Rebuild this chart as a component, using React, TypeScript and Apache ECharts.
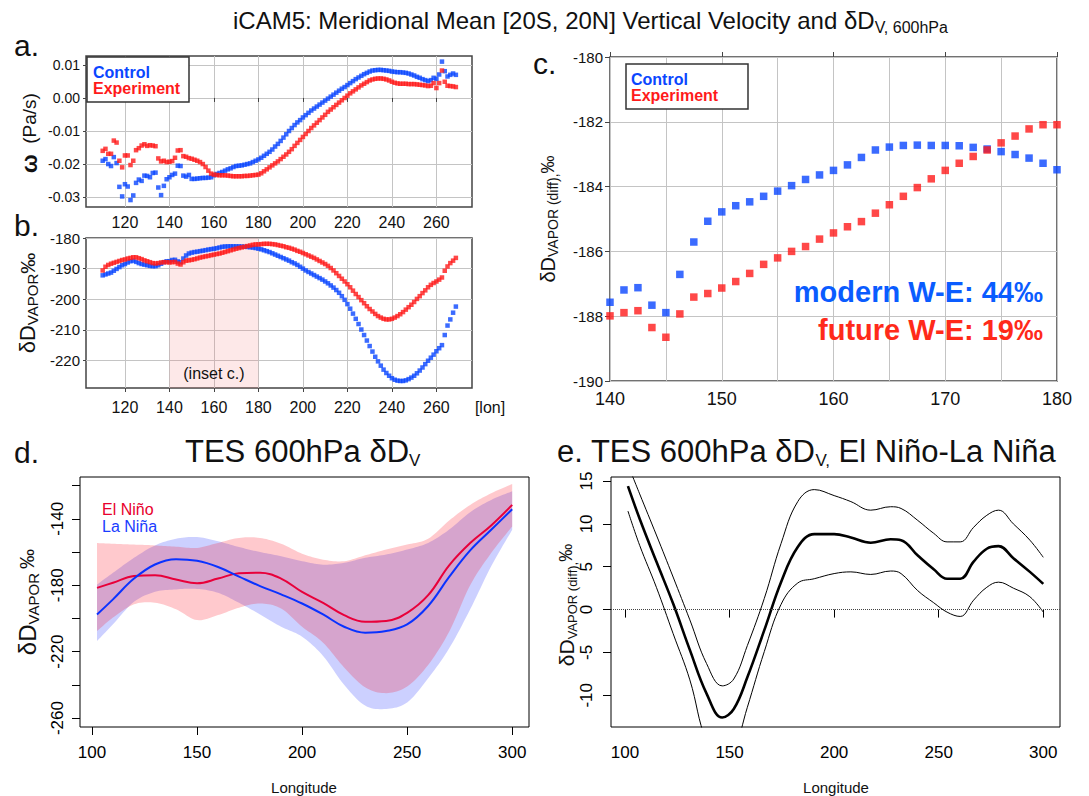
import React, { useEffect, useRef } from "react";
import * as echarts from "echarts";

// ---------- Panel a / b : iCAM5 model grid longitudes ----------
const LON = [
  110, 111.25, 112.5, 113.75, 115, 116.25, 117.5, 118.75,
  120, 121.25, 122.5, 123.75, 125, 126.25, 127.5, 128.75,
  130, 131.25, 132.5, 133.75, 135, 136.25, 137.5, 138.75,
  140, 141.25, 142.5, 143.75, 145, 146.25, 147.5, 148.75,
  150, 151.25, 152.5, 153.75, 155, 156.25, 157.5, 158.75,
  160, 161.25, 162.5, 163.75, 165, 166.25, 167.5, 168.75,
  170, 171.25, 172.5, 173.75, 175, 176.25, 177.5, 178.75,
  180, 181.25, 182.5, 183.75, 185, 186.25, 187.5, 188.75,
  190, 191.25, 192.5, 193.75, 195, 196.25, 197.5, 198.75,
  200, 201.25, 202.5, 203.75, 205, 206.25, 207.5, 208.75,
  210, 211.25, 212.5, 213.75, 215, 216.25, 217.5, 218.75,
  220, 221.25, 222.5, 223.75, 225, 226.25, 227.5, 228.75,
  230, 231.25, 232.5, 233.75, 235, 236.25, 237.5, 238.75,
  240, 241.25, 242.5, 243.75, 245, 246.25, 247.5, 248.75,
  250, 251.25, 252.5, 253.75, 255, 256.25, 257.5, 258.75,
  260, 261.25, 262.5, 263.75, 265, 266.25, 267.5, 268.75,
];

// a. omega (Pa/s)
const A_CTRL = [
  -0.019, -0.0185, -0.02, -0.0206, -0.0179, -0.0197, -0.0269, -0.0298,
  -0.0261, -0.0268, -0.0309, -0.0295, -0.0257, -0.0247, -0.0251, -0.0235,
  -0.0236, -0.024, -0.0227, -0.0226, -0.0271, -0.0294, -0.0266, -0.0246,
  -0.024, -0.0233, -0.0229, -0.0205, -0.0206, -0.0235, -0.0238, -0.0233,
  -0.0245, -0.0245, -0.0244, -0.0243, -0.0242, -0.0242, -0.0241, -0.024,
  -0.0234, -0.023, -0.0227, -0.0224, -0.022, -0.0216, -0.0213, -0.0209,
  -0.0206, -0.0205, -0.0204, -0.0202, -0.02, -0.0198, -0.0194, -0.019,
  -0.0186, -0.0181, -0.0175, -0.0169, -0.0163, -0.0156, -0.0147, -0.0139,
  -0.013, -0.012, -0.011, -0.01, -0.0091, -0.0082, -0.0074, -0.0067,
  -0.0059, -0.0052, -0.0045, -0.0038, -0.0032, -0.0026, -0.002, -0.0014,
  -0.0008, -0.0002, 0.0004, 0.001, 0.0016, 0.0022, 0.0028, 0.0033,
  0.0039, 0.0045, 0.0051, 0.0057, 0.0062, 0.0067, 0.0072, 0.0076,
  0.008, 0.0083, 0.0084, 0.0085, 0.0085, 0.0084, 0.0083, 0.0082,
  0.008, 0.0079, 0.0078, 0.0078, 0.0077, 0.0076, 0.0074, 0.0071,
  0.0068, 0.0064, 0.0061, 0.0057, 0.0054, 0.0051, 0.0054, 0.0061,
  0.0058, 0.0071, 0.011, 0.0081, 0.0065, 0.007, 0.0074, 0.007,
];
const A_EXP = [
  -0.016, -0.0154, -0.0169, -0.0169, -0.0129, -0.0135, -0.019, -0.021,
  -0.0174, -0.0174, -0.0203, -0.019, -0.0158, -0.0152, -0.0144, -0.014,
  -0.0145, -0.0143, -0.0144, -0.0146, -0.0183, -0.0192, -0.019, -0.0194,
  -0.0193, -0.0191, -0.0181, -0.0159, -0.0158, -0.0176, -0.0178, -0.0182,
  -0.0184, -0.0187, -0.019, -0.0194, -0.02, -0.0209, -0.022, -0.0229,
  -0.0232, -0.0233, -0.0234, -0.0234, -0.0234, -0.0235, -0.0236, -0.0237,
  -0.0237, -0.0237, -0.0237, -0.0236, -0.0236, -0.0235, -0.0234, -0.0233,
  -0.0232, -0.0228, -0.0222, -0.0216, -0.021, -0.0204, -0.0198, -0.0192,
  -0.0185, -0.0178, -0.0171, -0.0163, -0.0155, -0.0145, -0.0136, -0.0127,
  -0.0118, -0.0109, -0.01, -0.0091, -0.0083, -0.0075, -0.0067, -0.0059,
  -0.0051, -0.0042, -0.0035, -0.0028, -0.0021, -0.0014, -0.0007, 0.0,
  0.0007, 0.0014, 0.002, 0.0026, 0.0032, 0.0038, 0.0043, 0.0048,
  0.0053, 0.0056, 0.0058, 0.0059, 0.0059, 0.0058, 0.0056, 0.0053,
  0.0049, 0.0046, 0.0044, 0.0043, 0.0043, 0.0043, 0.0042, 0.0042,
  0.0042, 0.0041, 0.004, 0.0039, 0.0038, 0.0036, 0.0037, 0.0045,
  0.003, 0.0045, 0.0083, 0.0049, 0.0037, 0.0036, 0.0035, 0.0033,
];

// b. dD vapor (permil)
const B_CTRL = [
  -192.2, -191.9, -191.6, -191.3, -190.7, -190.1, -189.5, -188.9,
  -188.5, -188.0, -187.6, -187.4, -187.8, -188.2, -188.5, -188.7,
  -188.9, -189.1, -189.2, -189.2, -188.9, -188.4, -187.9, -187.6,
  -187.57, -187.19, -187.12, -187.66, -187.89, -186.71, -185.71, -185.07,
  -184.78, -184.59, -184.47, -184.3, -184.14, -183.97, -183.78, -183.64,
  -183.5, -183.33, -183.1, -182.87, -182.78, -182.73, -182.72, -182.73,
  -182.73, -182.74, -182.79, -182.84, -182.92, -183.01, -183.12, -183.28,
  -183.48, -183.7, -184.0, -184.3, -184.6, -185.0, -185.4, -185.8,
  -186.2, -186.6, -187.0, -187.4, -187.9, -188.3, -188.8, -189.4,
  -190.0, -190.6, -191.1, -191.6, -192.1, -192.6, -193.1, -193.6,
  -194.2, -194.8, -195.5, -196.2, -197.0, -197.9, -199.0, -200.2,
  -201.6, -203.1, -204.7, -206.4, -208.1, -209.9, -211.7, -213.5,
  -215.3, -217.1, -218.8, -220.3, -221.7, -223.0, -224.1, -225.0,
  -225.8, -226.3, -226.6, -226.7, -226.7, -226.5, -226.1, -225.6,
  -225.0, -224.2, -223.3, -222.3, -221.2, -220.1, -219.1, -218.1,
  -217.0, -216.0, -215.0, -211.7, -208.6, -206.6, -204.4, -202.4,
];
const B_EXP = [
  -190.6, -189.4, -188.8, -188.4, -188.1, -187.8, -187.5, -187.2,
  -187.0, -186.7, -186.5, -186.3, -186.3, -186.6, -186.9, -187.3,
  -187.6, -187.9, -188.2, -188.3, -188.2, -188.0, -187.9, -187.9,
  -187.99, -187.89, -187.83, -188.35, -188.65, -187.93, -187.41, -187.3,
  -187.13, -186.93, -186.68, -186.4, -186.2, -186.0, -185.85, -185.62,
  -185.43, -185.24, -185.08, -184.82, -184.56, -184.3, -184.03, -183.76,
  -183.5, -183.28, -183.07, -182.87, -182.65, -182.44, -182.22, -182.09,
  -182.09, -182.0, -181.9, -181.9, -181.9, -182.0, -182.1, -182.3,
  -182.5, -182.7, -183.0, -183.2, -183.5, -183.8, -184.2, -184.5,
  -184.9, -185.3, -185.7, -186.1, -186.5, -187.0, -187.5, -188.0,
  -188.5, -189.1, -189.8, -190.6, -191.5, -192.4, -193.3, -194.2,
  -195.1, -196.1, -197.2, -198.3, -199.3, -200.3, -201.3, -202.3,
  -203.2, -204.0, -204.8, -205.5, -206.0, -206.4, -206.6, -206.6,
  -206.4, -206.0, -205.5, -204.9, -204.2, -203.4, -202.6, -201.8,
  -200.9, -199.9, -199.0, -198.0, -197.1, -196.1, -195.3, -194.7,
  -194.2, -193.6, -192.9, -190.7, -189.3, -188.2, -187.4, -186.5,
];

// c. inset 140-180
const LON_C = [
  140, 141.25, 142.5, 143.75, 145, 146.25, 147.5, 148.75,
  150, 151.25, 152.5, 153.75, 155, 156.25, 157.5, 158.75,
  160, 161.25, 162.5, 163.75, 165, 166.25, 167.5, 168.75,
  170, 171.25, 172.5, 173.75, 175, 176.25, 177.5, 178.75, 180,
];
const C_CTRL = [
  -187.57, -187.19, -187.12, -187.66, -187.89, -186.71, -185.71, -185.07,
  -184.78, -184.59, -184.47, -184.3, -184.14, -183.97, -183.78, -183.64,
  -183.5, -183.33, -183.1, -182.87, -182.78, -182.73, -182.72, -182.73,
  -182.73, -182.74, -182.79, -182.84, -182.92, -183.01, -183.12, -183.28, -183.48,
];
const C_EXP = [
  -187.99, -187.89, -187.83, -188.35, -188.65, -187.93, -187.41, -187.3,
  -187.13, -186.93, -186.68, -186.4, -186.2, -186.0, -185.85, -185.62,
  -185.43, -185.24, -185.08, -184.82, -184.56, -184.3, -184.03, -183.76,
  -183.5, -183.28, -183.07, -182.87, -182.65, -182.44, -182.22, -182.09, -182.09,
];

// d. TES 600hPa dD composites
const D_LON = [102.4, 110, 120, 130, 140, 150, 160, 170, 180, 190, 200, 210, 220, 230, 240, 250, 260, 270, 280, 290, 300];
const EN_HI = [-154.6, -155, -155.5, -156, -156.8, -157.5, -154.5, -151.5, -151.5, -155, -161, -164.6, -165.5, -162, -158.5, -155.5, -152, -141, -131.6, -124.6, -119];
const EN_LO = [-207.6, -199.5, -191.5, -190.5, -194.5, -201, -198, -193.5, -191, -194, -205, -214.6, -229.5, -241.5, -245, -241, -228, -208, -180, -160.6, -144.6];
const LN_HI = [-179.6, -172.5, -163.5, -156, -152, -151, -153.5, -157, -160, -162.5, -165.5, -167.6, -166.5, -163.5, -161.5, -158.5, -154.5, -146.5, -136, -128.6, -123.4];
const LN_LO = [-213.6, -203.5, -190, -184, -182.5, -182.2, -184.6, -190.6, -197.6, -205, -211, -222.6, -240, -252.5, -254.5, -250.6, -236, -218, -194.5, -168.6, -146.6];
const EN_MID = [-181.6, -178.5, -174.5, -174, -176.5, -178.8, -176, -172.8, -172.5, -176, -184, -190.6, -198, -202, -201.5, -196.6, -186, -168, -154.6, -144, -131.6];
const LN_MID = [-197.6, -188.5, -176, -167.5, -164.3, -165.3, -169, -174.8, -180.5, -185.5, -191, -197.6, -205, -208.6, -207.6, -203.6, -192.5, -175, -159, -146.6, -134.2];

// e. El Nino - La Nina difference with bounds
const E_LON = [101.4, 107, 115, 123, 131, 139, 146.5, 152, 158.5, 166.6, 174.6, 182.6, 190.5, 200, 208, 217.5, 227, 232, 240, 247.6, 254, 260.3, 266.7, 273, 278.6, 285.7, 293.6, 300];
const E_MID = [14.4, 10.6, 5.6, 0.7, -4.7, -9.8, -12.6, -11.6, -7.9, -2.4, 3.2, 7.3, 8.8, 8.8, 8.4, 7.8, 8.2, 8.1, 6.3, 4.7, 3.6, 3.6, 5.6, 7.1, 7.4, 6.0, 4.4, 3.0];
const E_HI = [16.9, 13.5, 8.7, 3.8, -1.2, -6.3, -8.9, -8.1, -4.2, 1.3, 7.7, 12.6, 14.0, 13.3, 12.6, 11.6, 12.0, 11.8, 10.4, 8.9, 7.9, 7.9, 9.6, 11.0, 11.6, 10.0, 8.1, 6.1];
const E_LO = [11.5, 7.5, 2.6, -2.8, -8.2, -15.4, -17.6, -16.4, -11.4, -4.9, 0.6, 3.1, 3.6, 4.2, 4.4, 4.1, 4.5, 4.2, 2.2, 0.8, -0.3, -0.8, 1.1, 2.6, 3.2, 2.5, 1.5, -0.3];

// tick values
const AB_XTICKS = [120, 140, 160, 180, 200, 220, 240, 260];
const A_YTICKS = [-0.03, -0.02, -0.01, 0, 0.01];
const B_YTICKS = [-220, -210, -200, -190, -180];
const DE_XTICKS = [100, 150, 200, 250, 300];
const D_YTICKS = [-260, -240, -220, -200, -180, -160, -140, -120];
const D_YLABELS = [-260, -220, -180, -140];
const E_YTICKS = [-10, -5, 0, 5, 10, 15];

const F = "'Liberation Sans', Arial, Helvetica, sans-serif";
const BLUE = "#0a46ff";
const RED = "#ff1a1a";

const mk = (xs: number[], ys: number[]) => xs.map((x, i) => [x, ys[i]]);

function catmull(pts: number[][], steps = 10) {
  const out: number[][] = [];
  for (let i = 0; i < pts.length - 1; i++) {
    const p0 = pts[Math.max(0, i - 1)], p1 = pts[i], p2 = pts[i + 1], p3 = pts[Math.min(pts.length - 1, i + 2)];
    for (let s = 0; s < steps; s++) {
      const t = s / steps, t2 = t * t, t3 = t2 * t;
      const f = (k: number) =>
        0.5 * (2 * p1[k] + (-p0[k] + p2[k]) * t + (2 * p0[k] - 5 * p1[k] + 4 * p2[k] - p3[k]) * t2 + (-p0[k] + 3 * p1[k] - 3 * p2[k] + p3[k]) * t3);
      out.push([f(0), f(1)]);
    }
  }
  out.push(pts[pts.length - 1]);
  return out;
}

function band(hi: number[], lo: number[], color: string) {
  return {
    type: "custom",
    coordinateSystem: "cartesian2d",
    xAxisIndex: 4,
    yAxisIndex: 3,
    silent: true,
    z: 1,
    data: [[200, -190]],
    renderItem: (_p: any, api: any) => {
      const up = D_LON.map((x, i) => api.coord([x, hi[i]]));
      const dn = D_LON.map((x, i) => api.coord([x, lo[i]]));
      const pts = catmull(up).concat(catmull(dn).reverse());
      return { type: "polygon", shape: { points: pts }, style: { fill: color } };
    },
  };
}

const gridStyle = (left: number, top: number, width: number, height: number, color = "#444", bw = 1.5) => ({
  left, top, width, height, show: true, borderColor: color, borderWidth: bw,
  backgroundColor: "transparent", containLabel: false, outerBoundsMode: "none",
});

const splitGray = { show: true, lineStyle: { color: "#c4c4c4", width: 1 } };

function txt(x: number, y: number, text: string, fontSize: number, extra: any = {}) {
  return {
    type: "text", x, y, z: 100, silent: true,
    style: { text, fontSize, fontFamily: F, fill: "#111", align: "left", verticalAlign: "middle", ...extra },
  };
}

function rotLabel(x: number, y: number, text: string, rich: any) {
  return {
    type: "text", x, y, z: 100, rotation: Math.PI / 2, silent: true,
    style: { text, rich, fontFamily: F, fill: "#111", align: "center", verticalAlign: "middle" },
  };
}

function buildOption(): any {
  const dRich = (big: number, small: number, pm: number) => ({
    d: { fontSize: big, fontFamily: F, fill: "#111", lineHeight: big + 4 },
    v: { fontSize: small, fontFamily: F, fill: "#111", lineHeight: big - 2, verticalAlign: "bottom" },
    p: { fontSize: pm, fontFamily: F, fill: "#111", lineHeight: big + 4 },
  });

  return {
    animation: false,
    backgroundColor: "#fff",
    textStyle: { fontFamily: F },
    grid: [
      gridStyle(86, 56, 386, 151),
      gridStyle(86, 238, 386, 150),
      gridStyle(610, 57, 447, 324),
      gridStyle(80, 477, 449, 250, "#000", 1),
      gridStyle(611, 477, 449, 250, "#000", 1),
    ],
    xAxis: [
      {
        gridIndex: 0, type: "value", min: 102.5, max: 276,
        axisLine: { show: false },
        axisTick: { show: true, length: 4, customValues: AB_XTICKS, lineStyle: { color: "#444" } },
        axisLabel: { customValues: AB_XTICKS, fontSize: 16, color: "#111", margin: 7, fontFamily: F },
        splitLine: splitGray,
      },
      {
        gridIndex: 1, type: "value", min: 102.5, max: 276,
        axisLine: { show: false },
        axisTick: { show: true, length: 4, customValues: AB_XTICKS, lineStyle: { color: "#444" } },
        axisLabel: { customValues: AB_XTICKS, fontSize: 16, color: "#111", margin: 11, fontFamily: F },
        splitLine: splitGray,
      },
      {
        gridIndex: 2, type: "value", min: 140, max: 180, interval: 5,
        axisLine: { show: false },
        axisTick: { show: false },
        axisLabel: { fontSize: 18, color: "#111", margin: 9, fontFamily: F, formatter: (v: number) => (v % 10 === 0 ? String(v) : "") },
        splitLine: splitGray,
      },
      {
        gridIndex: 2, type: "value", min: 140, max: 180, interval: 10,
        axisLine: { show: false },
        axisTick: { show: true, length: 5, lineStyle: { color: "#444" } },
        axisLabel: { show: false },
        splitLine: { show: false },
      },
      {
        gridIndex: 3, type: "value", min: 94.3, max: 308,
        axisLine: { show: false },
        axisTick: { show: true, length: 8, customValues: DE_XTICKS, lineStyle: { color: "#000" } },
        axisLabel: { customValues: DE_XTICKS, fontSize: 17, color: "#000", margin: 17, fontFamily: F },
        splitLine: { show: false },
      },
      {
        gridIndex: 4, type: "value", min: 93.3, max: 308,
        axisLine: { show: false },
        axisTick: { show: true, length: 8, customValues: DE_XTICKS, lineStyle: { color: "#000" } },
        axisLabel: { customValues: DE_XTICKS, fontSize: 17, color: "#000", margin: 17, fontFamily: F },
        splitLine: { show: false },
      },
    ],
    yAxis: [
      {
        gridIndex: 0, type: "value", min: -0.033, max: 0.0127,
        axisLine: { show: false },
        axisTick: { show: true, length: 3, customValues: A_YTICKS, lineStyle: { color: "#444" } },
        axisLabel: { customValues: A_YTICKS, fontSize: 14, color: "#111", margin: 6, fontFamily: F, formatter: (v: number) => v.toFixed(2) },
        splitLine: splitGray,
      },
      {
        gridIndex: 1, type: "value", min: -229, max: -180,
        axisLine: { show: false },
        axisTick: { show: true, length: 3, customValues: B_YTICKS, lineStyle: { color: "#444" } },
        axisLabel: { customValues: B_YTICKS, fontSize: 15, color: "#111", margin: 6, fontFamily: F },
        splitLine: splitGray,
      },
      {
        gridIndex: 2, type: "value", min: -190, max: -180, interval: 2,
        axisLine: { show: false },
        axisTick: { show: true, length: 5, lineStyle: { color: "#444" } },
        axisLabel: { fontSize: 15, color: "#111", margin: 7, fontFamily: F },
        splitLine: splitGray,
      },
      {
        gridIndex: 3, type: "value", min: -265.4, max: -114.8,
        axisLine: { show: false },
        axisTick: { show: true, length: 8, customValues: D_YTICKS, lineStyle: { color: "#000" } },
        axisLabel: { customValues: D_YLABELS, rotate: 90, fontSize: 17, color: "#000", margin: 14, fontFamily: F },
        splitLine: { show: false },
      },
      {
        gridIndex: 4, type: "value", min: -13.7, max: 15.47,
        axisLine: { show: false },
        axisTick: { show: true, length: 8, customValues: E_YTICKS, lineStyle: { color: "#000" } },
        axisLabel: { customValues: E_YTICKS, rotate: 90, fontSize: 17, color: "#000", margin: 16, fontFamily: F },
        splitLine: { show: false },
      },
    ],
    series: [
      // a
      { type: "scatter", xAxisIndex: 0, yAxisIndex: 0, data: mk(LON, A_CTRL), symbol: "rect", symbolSize: 4.5, itemStyle: { color: BLUE }, silent: true },
      { type: "scatter", xAxisIndex: 0, yAxisIndex: 0, data: mk(LON, A_EXP), symbol: "rect", symbolSize: 4.5, itemStyle: { color: RED }, silent: true },
      // b
      {
        type: "scatter", xAxisIndex: 1, yAxisIndex: 1, data: mk(LON, B_CTRL), symbol: "rect", symbolSize: 4.5, itemStyle: { color: BLUE }, silent: true,
        markArea: {
          silent: true,
          itemStyle: { color: "rgba(245,120,120,0.17)" },
          label: { show: true, position: "insideBottom", distance: 7, formatter: "(inset c.)", fontSize: 16, color: "#111", fontFamily: F },
          data: [[{ xAxis: 140 }, { xAxis: 180 }]],
        },
      },
      { type: "scatter", xAxisIndex: 1, yAxisIndex: 1, data: mk(LON, B_EXP), symbol: "rect", symbolSize: 4.5, itemStyle: { color: RED }, silent: true },
      // c
      { type: "scatter", xAxisIndex: 2, yAxisIndex: 2, data: mk(LON_C, C_CTRL), symbol: "rect", symbolSize: 7.5, itemStyle: { color: BLUE }, silent: true },
      { type: "scatter", xAxisIndex: 2, yAxisIndex: 2, data: mk(LON_C, C_EXP), symbol: "rect", symbolSize: 7.5, itemStyle: { color: RED }, silent: true },
      // d
      band(LN_HI, LN_LO, "rgba(0,20,255,0.2)"),
      band(EN_HI, EN_LO, "rgba(255,0,20,0.21)"),
      { type: "line", xAxisIndex: 4, yAxisIndex: 3, data: mk(D_LON, EN_MID), smooth: 0.4, symbol: "none", lineStyle: { color: "#e8003a", width: 2 }, z: 3, silent: true },
      { type: "line", xAxisIndex: 4, yAxisIndex: 3, data: mk(D_LON, LN_MID), smooth: 0.4, symbol: "none", lineStyle: { color: "#0a32ff", width: 2 }, z: 3, silent: true },
      // e
      { type: "line", xAxisIndex: 5, yAxisIndex: 4, data: mk(E_LON, E_HI), smooth: 0.4, symbol: "none", lineStyle: { color: "#000", width: 1 }, silent: true },
      { type: "line", xAxisIndex: 5, yAxisIndex: 4, data: mk(E_LON, E_LO), smooth: 0.4, symbol: "none", lineStyle: { color: "#000", width: 1 }, silent: true },
      {
        type: "line", xAxisIndex: 5, yAxisIndex: 4, data: mk(E_LON, E_MID), smooth: 0.4, symbol: "none", lineStyle: { color: "#000", width: 2.6 }, silent: true,
        markLine: { silent: true, symbol: "none", label: { show: false }, lineStyle: { type: "dotted", color: "#444", width: 1 }, data: [{ yAxis: 0 }] },
      },
    ],
    graphic: [
      // main title
      {
        type: "text", x: 233, y: 20, z: 100, silent: true,
        style: {
          text: "{m|iCAM5: Meridional Mean [20S, 20N] Vertical Velocity and δD}{s|V, 600hPa}",
          align: "left", verticalAlign: "middle",
          rich: {
            m: { fontSize: 24, fontFamily: F, fill: "#111", lineHeight: 30 },
            s: { fontSize: 16, fontFamily: F, fill: "#111", lineHeight: 14, verticalAlign: "bottom" },
          },
        },
      },
      // panel letters
      txt(14, 45, "a.", 30),
      txt(14, 225, "b.", 30),
      txt(533, 63, "c.", 30),
      txt(14, 452, "d.", 30),
      // panel a legend
      { type: "rect", z: 99, silent: true, shape: { x: 87, y: 57, width: 102, height: 45 }, style: { fill: "#fff", stroke: "#333", lineWidth: 1.5 } },
      txt(93, 72, "Control", 16, { fill: BLUE, fontWeight: "bold" }),
      txt(93, 88, "Experiment", 16, { fill: RED, fontWeight: "bold" }),
      // panel c legend
      { type: "rect", z: 99, silent: true, shape: { x: 626, y: 64, width: 122, height: 45 }, style: { fill: "#fff", stroke: "#333", lineWidth: 1.5 } },
      txt(631, 79, "Control", 16, { fill: BLUE, fontWeight: "bold" }),
      txt(631, 95, "Experiment", 16, { fill: RED, fontWeight: "bold" }),
      // panel c annotations
      txt(1043, 292, "modern W-E: 44‰", 29, { fill: "#0a5cff", fontWeight: "bold", align: "right" }),
      txt(1043, 330, "future W-E: 19‰", 29, { fill: "#ff2a1a", fontWeight: "bold", align: "right" }),
      // [lon]
      txt(490, 407, "[lon]", 16, { align: "center" }),
      // y-axis names
      rotLabel(29, 133, "{w|ω}{p|  (Pa/s)}", {
        w: { fontSize: 22, fontWeight: "bold", fontFamily: F, fill: "#111" },
        p: { fontSize: 19, fontFamily: F, fill: "#111" },
      }),
      rotLabel(27, 303, "{d|δD}{v|VAPOR}{p|‰}", dRich(22, 15, 21)),
      rotLabel(548, 219, "{d|δD}{v|VAPOR (diff),}{p|‰}", dRich(20, 14, 18)),
      rotLabel(27, 602, "{d|δD}{v|VAPOR }{p|‰}", dRich(24, 15, 20)),
      rotLabel(566, 605, "{d|δD}{v|VAPOR (diff),}{p|‰}", dRich(21, 13, 18)),
      // d title and legend
      {
        type: "text", x: 185, y: 451, z: 100, silent: true,
        style: {
          text: "{m|TES 600hPa δD}{s|V}",
          align: "left", verticalAlign: "middle",
          rich: {
            m: { fontSize: 31, fontFamily: F, fill: "#111", lineHeight: 36 },
            s: { fontSize: 17, fontFamily: F, fill: "#111", lineHeight: 20, verticalAlign: "bottom" },
          },
        },
      },
      txt(102, 509, "El Niño", 16, { fill: "#e8002d" }),
      txt(102, 526, "La Niña", 16, { fill: "#1a3cff" }),
      // e title
      {
        type: "text", x: 557, y: 451, z: 100, silent: true,
        style: {
          text: "{m|e. TES 600hPa δD}{s|V,}{m| El Niño-La Niña}",
          align: "left", verticalAlign: "middle",
          rich: {
            m: { fontSize: 31, fontFamily: F, fill: "#111", lineHeight: 36 },
            s: { fontSize: 17, fontFamily: F, fill: "#111", lineHeight: 20, verticalAlign: "bottom" },
          },
        },
      },
      txt(304, 787, "Longitude", 15, { align: "center" }),
      txt(836, 787, "Longitude", 15, { align: "center" }),
    ],
  };
}

export default function App() {
  const ref = useRef<HTMLDivElement>(null);
  useEffect(() => {
    if (!ref.current) return;
    const chart = echarts.init(ref.current, null, { renderer: "svg" });
    chart.setOption(buildOption());
    return () => chart.dispose();
  }, []);
  return (
    <div
      ref={ref}
      style={{ position: "absolute", left: 0, top: 0, width: 1089, height: 796, background: "#fff" }}
    />
  );
}
